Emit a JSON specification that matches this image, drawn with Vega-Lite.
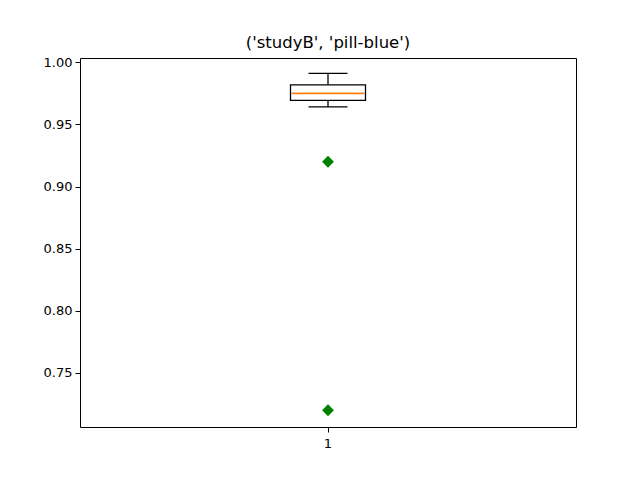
{
  "$schema": "https://vega.github.io/schema/vega-lite/v6.json",
  "width": 496,
  "height": 369,
  "autosize": {"type": "none"},
  "padding": {"left": 80, "top": 58, "right": 64, "bottom": 53},
  "background": "white",
  "config": {
    "font": "DejaVu Sans",
    "view": {"stroke": "black", "strokeWidth": 1},
    "axis": {
      "grid": false,
      "domain": false,
      "tickColor": "black",
      "tickSize": 5,
      "tickWidth": 1,
      "labelColor": "black",
      "labelFontSize": 13,
      "labelFont": "DejaVu Sans",
      "labelPadding": 3,
      "title": null
    }
  },
  "title": {
    "text": "('studyB', 'pill-blue')",
    "fontSize": 16.5,
    "fontWeight": "normal",
    "font": "DejaVu Sans",
    "color": "black",
    "offset": 5
  },
  "datasets": {
    "stats": [
      {"group": "1", "lower": 0.9642, "q1": 0.9694, "median": 0.975, "q3": 0.9819, "upper": 0.9911}
    ],
    "outliers": [
      {"group": "1", "value": 0.92},
      {"group": "1", "value": 0.72}
    ]
  },
  "layer": [
    {
      "data": {"name": "stats"},
      "mark": {"type": "rule", "color": "black", "strokeWidth": 1.3},
      "encoding": {
        "x": {"field": "group", "type": "nominal", "scale": {"padding": 0}, "axis": {"labelAngle": 0, "labelPadding": 5}},
        "y": {"field": "upper", "type": "quantitative", "scale": {"domain": [0.7065, 1.0035], "nice": false, "zero": false}, "axis": {"values": [0.75, 0.8, 0.85, 0.9, 0.95, 1.0], "format": ".2f"}},
        "y2": {"field": "q3"}
      }
    },
    {
      "data": {"name": "stats"},
      "mark": {"type": "rule", "color": "black", "strokeWidth": 1.3},
      "encoding": {
        "x": {"field": "group", "type": "nominal"},
        "y": {"field": "q1", "type": "quantitative"},
        "y2": {"field": "lower"}
      }
    },
    {
      "data": {"name": "stats"},
      "mark": {"type": "bar", "size": 75, "fill": "white", "stroke": "black", "strokeWidth": 1.3},
      "encoding": {
        "x": {"field": "group", "type": "nominal"},
        "y": {"field": "q1", "type": "quantitative"},
        "y2": {"field": "q3"}
      }
    },
    {
      "data": {"name": "stats"},
      "mark": {"type": "tick", "size": 39, "thickness": 1.4, "color": "black", "opacity": 1},
      "encoding": {
        "x": {"field": "group", "type": "nominal"},
        "y": {"field": "upper", "type": "quantitative"}
      }
    },
    {
      "data": {"name": "stats"},
      "mark": {"type": "tick", "size": 39, "thickness": 1.4, "color": "black", "opacity": 1},
      "encoding": {
        "x": {"field": "group", "type": "nominal"},
        "y": {"field": "lower", "type": "quantitative"}
      }
    },
    {
      "data": {"name": "stats"},
      "mark": {"type": "tick", "size": 73, "thickness": 1.6, "color": "#ff7f0e", "opacity": 1},
      "encoding": {
        "x": {"field": "group", "type": "nominal"},
        "y": {"field": "median", "type": "quantitative"}
      }
    },
    {
      "data": {"name": "outliers"},
      "mark": {"type": "point", "shape": "diamond", "size": 140, "filled": true, "color": "green", "opacity": 1},
      "encoding": {
        "x": {"field": "group", "type": "nominal"},
        "y": {"field": "value", "type": "quantitative"}
      }
    }
  ]
}
